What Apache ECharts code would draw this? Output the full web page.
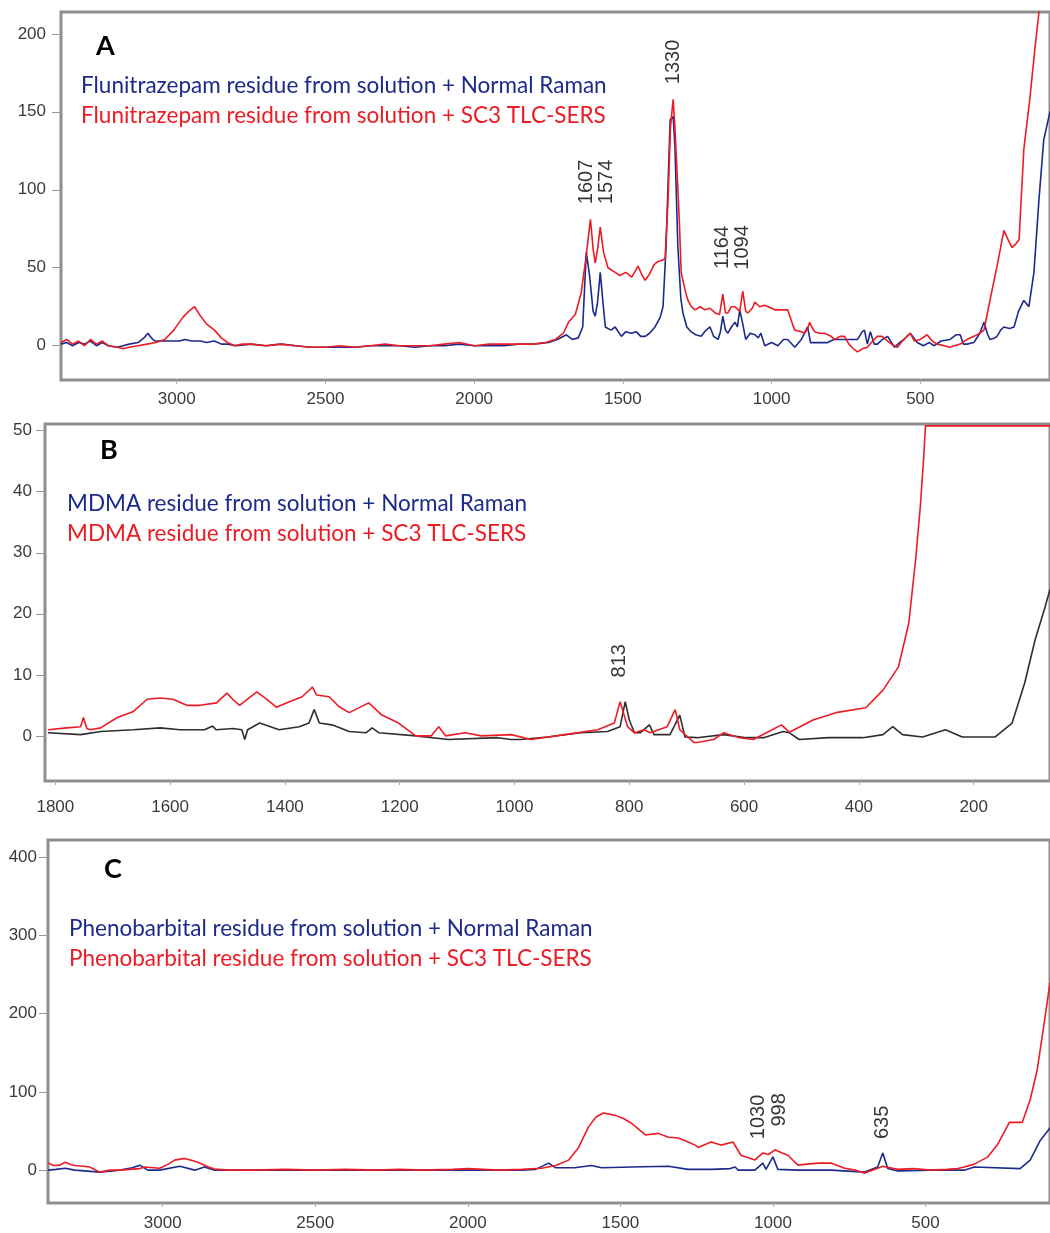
<!DOCTYPE html>
<html>
<head>
<meta charset="utf-8">
<script src="https://cdn.jsdelivr.net/npm/echarts@6/dist/echarts.min.js"></script>
<style>
  html, body { margin: 0; padding: 0; background: #fff; }
  #chart { width: 1050px; height: 1233px; }
</style>
</head>
<body>
<div id="chart"></div>
<script>
// panel A - Flunitrazepam, [wavenumber, intensity]
var flunitrazepamRaman = [[3389,1],[3370,2],[3350,0],[3330,2],[3310,1],[3290,3],[3270,0],[3250,2],[3230,0],[3200,-1],[3180,0],[3160,1],[3130,2],[3110,5],[3097,8],[3085,5],[3074,3],[3050,3],[3020,3],[2990,3],[2973,4],[2950,3],[2920,3],[2900,2],[2873,3],[2850,1],[2829,1],[2800,0],[2750,1],[2700,0],[2650,1],[2600,0],[2550,-1],[2500,-1],[2450,-1],[2400,-1],[2350,0],[2300,0],[2250,0],[2200,-1],[2150,0],[2100,0],[2050,1],[2000,0],[1950,0],[1900,0],[1851,1],[1800,1],[1750,2],[1720,4],[1690,7],[1670,4],[1650,5],[1635,12],[1623,60],[1612,45],[1600,22],[1593,19],[1585,28],[1576,47],[1568,30],[1559,12],[1540,10],[1526,12],[1505,6],[1490,9],[1472,8],[1455,9],[1440,6],[1425,6],[1410,8],[1392,12],[1375,18],[1365,25],[1355,63],[1341,145],[1331,147],[1325,128],[1315,63],[1305,30],[1298,21],[1285,12],[1271,9],[1255,7],[1237,6],[1220,10],[1207,12],[1195,6],[1180,4],[1172,9],[1164,19],[1155,10],[1147,8],[1135,12],[1123,15],[1115,12],[1107,23],[1097,14],[1087,4],[1072,8],[1056,7],[1045,5],[1036,8],[1023,0],[1000,2],[979,0],[960,4],[946,4],[922,-1],[900,4],[879,12],[869,2],[850,2],[830,2],[812,2],[790,4],[768,4],[740,4],[711,4],[695,9],[688,10],[678,1],[668,9],[655,1],[644,1],[628,4],[610,6],[587,-1],[570,2],[555,4],[534,8],[510,2],[490,0],[470,2],[453,0],[430,3],[400,4],[380,7],[366,7],[355,1],[343,1],[320,2],[300,8],[286,15],[275,8],[266,4],[250,5],[242,6],[230,10],[219,12],[200,11],[185,12],[170,22],[152,29],[135,25],[118,47],[101,94],[85,132],[64,150]];
var flunitrazepamSers = [[3389,2],[3370,4],[3350,1],[3330,3],[3310,0],[3290,4],[3270,1],[3250,3],[3230,0],[3200,-1],[3180,-2],[3160,-1],[3130,0],[3100,1],[3070,2],[3040,4],[3010,10],[2980,18],[2960,22],[2940,25],[2920,19],[2900,14],[2873,10],[2850,5],[2829,2],[2806,0],[2780,1],[2750,1],[2700,0],[2650,1],[2600,0],[2550,-1],[2500,-1],[2450,0],[2400,-1],[2350,0],[2300,1],[2250,0],[2200,0],[2150,0],[2100,1],[2050,2],[2000,0],[1950,1],[1900,1],[1851,1],[1800,1],[1760,2],[1727,4],[1700,8],[1683,15],[1660,20],[1640,34],[1625,55],[1609,81],[1600,62],[1593,53],[1585,62],[1576,76],[1565,60],[1550,50],[1526,47],[1510,45],[1490,47],[1470,44],[1449,51],[1435,45],[1425,42],[1410,46],[1395,52],[1382,54],[1365,55],[1358,56],[1348,94],[1340,140],[1331,158],[1325,140],[1315,100],[1310,79],[1304,47],[1290,35],[1281,29],[1270,25],[1257,23],[1240,25],[1224,23],[1207,24],[1190,21],[1175,20],[1164,33],[1155,21],[1147,21],[1135,25],[1123,25],[1107,22],[1097,35],[1087,22],[1080,21],[1065,24],[1056,28],[1040,25],[1023,26],[1000,24],[989,23],[970,23],[946,23],[930,14],[922,10],[900,9],[889,8],[879,11],[872,15],[865,12],[855,9],[840,8],[822,8],[800,6],[788,4],[770,6],[755,6],[740,1],[725,-2],[711,-4],[695,-2],[678,-1],[660,3],[645,6],[628,6],[610,3],[590,0],[577,-1],[560,3],[545,6],[534,8],[520,3],[500,4],[477,7],[460,3],[443,1],[420,0],[400,-1],[386,0],[366,1],[343,4],[320,6],[300,8],[286,10],[266,29],[242,51],[219,74],[205,68],[192,63],[180,65],[168,68],[152,126],[132,158],[115,190],[101,214],[95,240]];

// panel B - MDMA
var mdmaRaman = [[1813,0.5],[1756,0.2],[1721,0.7],[1664,1.0],[1617,1.3],[1583,1.0],[1540,1.0],[1526,1.6],[1520,1.0],[1490,1.2],[1475,1.0],[1470,-0.6],[1465,1.0],[1444,2.1],[1410,1.0],[1375,1.5],[1358,2.1],[1349,4.3],[1340,2.1],[1318,1.8],[1288,0.7],[1259,0.5],[1248,1.3],[1236,0.5],[1172,0],[1115,-0.6],[1029,-0.3],[1006,-0.6],[989,-0.6],[942,-0.2],[885,0.5],[838,0.7],[816,1.5],[807,5.6],[800,2.6],[791,0.5],[781,0.5],[765,1.8],[757,0.2],[729,0.2],[712,3.4],[703,-0.2],[682,-0.3],[636,0.2],[596,-0.3],[566,-0.3],[532,0.7],[521,0.5],[504,-0.6],[452,-0.3],[393,-0.3],[358,0.2],[341,1.5],[324,0.2],[289,-0.2],[249,1.0],[220,-0.2],[163,-0.2],[133,2.1],[111,8.7],[93,15.7],[76,21],[67,24]];
var mdmaSers = [[1813,1.0],[1780,1.3],[1756,1.5],[1751,3.0],[1745,1.2],[1739,1.0],[1721,1.3],[1692,3.0],[1664,4.0],[1640,6.0],[1617,6.2],[1595,6.0],[1571,5.0],[1548,5.0],[1519,5.4],[1501,7.0],[1491,6.0],[1479,5.0],[1449,7.2],[1432,6.0],[1415,4.7],[1392,5.6],[1370,6.4],[1352,8.0],[1345,6.7],[1323,6.4],[1306,4.8],[1288,3.8],[1254,5.4],[1231,3.4],[1202,2.1],[1172,0],[1145,0],[1132,1.5],[1120,0],[1086,0.5],[1058,0],[1006,0.2],[971,-0.6],[913,0.2],[855,1.0],[826,2.1],[816,5.6],[803,1.5],[791,0.5],[774,1.0],[764,0.5],[734,1.5],[720,4.3],[712,1.0],[687,-1.1],[682,-1.1],[653,-0.6],[636,0.5],[608,-0.3],[584,-0.6],[561,0.5],[535,1.8],[521,0.6],[480,2.6],[440,3.8],[388,4.6],[358,7.5],[331,11.3],[313,18.5],[301,29],[293,37.5],[287,45.7],[284,50.8],[200,50.8],[67,50.8]];

// panel C - Phenobarbital
var phenobarbitalRaman = [[3376,0],[3350,1],[3320,2.5],[3288,0],[3206,-2.5],[3140,0],[3100,3],[3075,6.4],[3049,0],[3010,0],[2944,5],[2895,0],[2863,4],[2830,0],[2700,0],[2552,0],[2400,0],[2225,0],[2050,0],[1900,0],[1824,0],[1778,1],[1735,9],[1712,3],[1650,3],[1595,6],[1562,3],[1464,4],[1343,5],[1278,1],[1200,1],[1140,2],[1124,4],[1114,0],[1059,0],[1033,9],[1023,1],[1000,17],[984,1],[918,0],[810,0],[699,-2.5],[657,4],[640,22],[624,2],[591,-1],[484,0],[373,0],[340,4],[190,2],[157,12.8],[124,38],[92,54]];
var phenobarbitalSers = [[3376,9],[3357,6],[3337,6.4],[3320,10],[3300,7],[3288,6],[3260,5],[3239,4],[3206,-2.5],[3173,0],[3140,0],[3108,1],[3075,2],[3059,4],[3010,2.5],[2980,8],[2961,12.8],[2928,15],[2900,12],[2879,9],[2850,4],[2830,1.3],[2781,0],[2700,0],[2600,1],[2500,0],[2400,1],[2300,0],[2225,1],[2150,0],[2050,1],[2000,2],[1950,1],[1900,0],[1824,1],[1758,2.5],[1712,6],[1670,12.8],[1637,29],[1605,55],[1580,68],[1556,73],[1516,70],[1490,66],[1464,60],[1418,45],[1376,47],[1343,42],[1310,41],[1278,36],[1255,32],[1245,29],[1203,36],[1170,32],[1131,36],[1105,19],[1059,13],[1033,22],[1015,20],[993,26],[970,22],[951,19],[918,6.4],[880,8],[850,9],[810,9],[765,2.5],[730,0],[699,-3.8],[657,2.5],[640,5],[591,1],[540,2],[484,0],[430,1],[395,2],[373,4],[340,7.7],[297,16.6],[265,32],[225,61],[183,61],[157,90],[134,128],[108,196],[92,240]];

// peak labels: [wavenumber, intensity, text]
var peaksA = [[1623,105,'1607'],[1556,105,'1574'],[1331,182,'1330'],[1164,63,'1164'],[1097,63,'1094']];
var peaksB = [[817,12.3,'813']];
var peaksC = [[1046,68,'1030'],[980,77,'998'],[640,61,'635']];

var xTicksA = [500,1000,1500,2000,2500,3000];
var yTicksA = [0,50,100,150,200];
var xTicksB = [200,400,600,800,1000,1200,1400,1600,1800];
var yTicksB = [0,10,20,30,40,50];
var xTicksC = [500,1000,1500,2000,2500,3000];
var yTicksC = [0,100,200,300,400];

var legendA = ['Flunitrazepam residue from solution + Normal Raman', 'Flunitrazepam residue from solution + SC3 TLC-SERS'];
var legendB = ['MDMA residue from solution + Normal Raman', 'MDMA residue from solution + SC3 TLC-SERS'];
var legendC = ['Phenobarbital residue from solution + Normal Raman', 'Phenobarbital residue from solution + SC3 TLC-SERS'];

var BLUE = '#1c2a8c';
var RED = '#ec1b24';
var DARK = '#2e2e2e';
var BORDER = '#8e8e8e';

function plain(v) { return String(v); }

function xAxisOf(idx, min, max, ticks, margin) {
    return {
        type: 'value', gridIndex: idx, inverse: true, min: min, max: max,
        axisLine: { show: false, onZero: false },
        splitLine: { show: false },
        axisTick: { show: true, customValues: ticks, length: 4, lineStyle: { color: '#aaa' } },
        axisLabel: { customValues: ticks, formatter: plain, margin: margin, color: '#3a3a3a', fontSize: 17, fontFamily: 'Liberation Sans' }
    };
}
function yAxisOf(idx, min, max, ticks, margin) {
    return {
        type: 'value', gridIndex: idx, min: min, max: max,
        axisLine: { show: false, onZero: false },
        splitLine: { show: false },
        axisTick: { show: true, customValues: ticks, length: 9, lineStyle: { color: '#999' } },
        axisLabel: { customValues: ticks, formatter: plain, margin: margin, color: '#3a3a3a', fontSize: 17, fontFamily: 'Liberation Sans' }
    };
}
function lineOf(idx, data, color) {
    return {
        type: 'line', xAxisIndex: idx, yAxisIndex: idx, data: data,
        showSymbol: false, symbol: 'none', clip: true, animation: false,
        lineStyle: { color: color, width: 1.6 }
    };
}
function peaksOf(idx, data) {
    return {
        type: 'scatter', xAxisIndex: idx, yAxisIndex: idx, symbolSize: 0,
        data: data.map(function (p) { return { value: [p[0], p[1]], name: p[2] }; }),
        label: {
            show: true, rotate: 90, position: 'inside', formatter: '{b}',
            color: '#000', fontSize: 20, fontFamily: 'Liberation Sans'
        },
        animation: false, silent: true
    };
}
function textOf(x, y, text, color, size, weight) {
    return {
        type: 'text', left: x, top: y,
        style: { text: text, fill: color, fontSize: size, fontWeight: weight || 'normal', fontFamily: 'Lato' }
    };
}

var chart = echarts.init(document.getElementById('chart'));
chart.setOption({
    backgroundColor: '#fff',
    animation: false,
    grid: [
        { left: 61, top: 12, right: -3, bottom: 853, show: true, borderColor: BORDER, borderWidth: 3 },
        { left: 45, top: 424, right: -3, bottom: 452, show: true, borderColor: BORDER, borderWidth: 3 },
        { left: 48, top: 840, right: -3, bottom: 30, show: true, borderColor: BORDER, borderWidth: 3 }
    ],
    xAxis: [
        xAxisOf(0, 64, 3389, xTicksA, 11),
        xAxisOf(1, 67, 1818, xTicksB, 18),
        xAxisOf(2, 92, 3376, xTicksC, 12)
    ],
    yAxis: [
        yAxisOf(0, -22, 214, yTicksA, 15),
        yAxisOf(1, -7.4, 51.1, yTicksB, 13),
        yAxisOf(2, -42, 422, yTicksC, 11)
    ],
    series: [
        lineOf(0, flunitrazepamRaman, BLUE),
        lineOf(0, flunitrazepamSers, RED),
        lineOf(1, mdmaRaman, DARK),
        lineOf(1, mdmaSers, RED),
        lineOf(2, phenobarbitalRaman, BLUE),
        lineOf(2, phenobarbitalSers, RED),
        peaksOf(0, peaksA),
        peaksOf(1, peaksB),
        peaksOf(2, peaksC)
    ],
    graphic: [
        textOf(96, 33, 'A', '#000', 27, 'bold'),
        textOf(81, 74, legendA[0], BLUE, 22.5),
        textOf(81, 104, legendA[1], RED, 22.5),
        textOf(100, 437, 'B', '#000', 27, 'bold'),
        textOf(67, 492, legendB[0], BLUE, 22.5),
        textOf(67, 522, legendB[1], RED, 22.5),
        textOf(104, 856, 'C', '#000', 27, 'bold'),
        textOf(69, 917, legendC[0], BLUE, 22.5),
        textOf(69, 947, legendC[1], RED, 22.5)
    ]
});
</script>
</body>
</html>
